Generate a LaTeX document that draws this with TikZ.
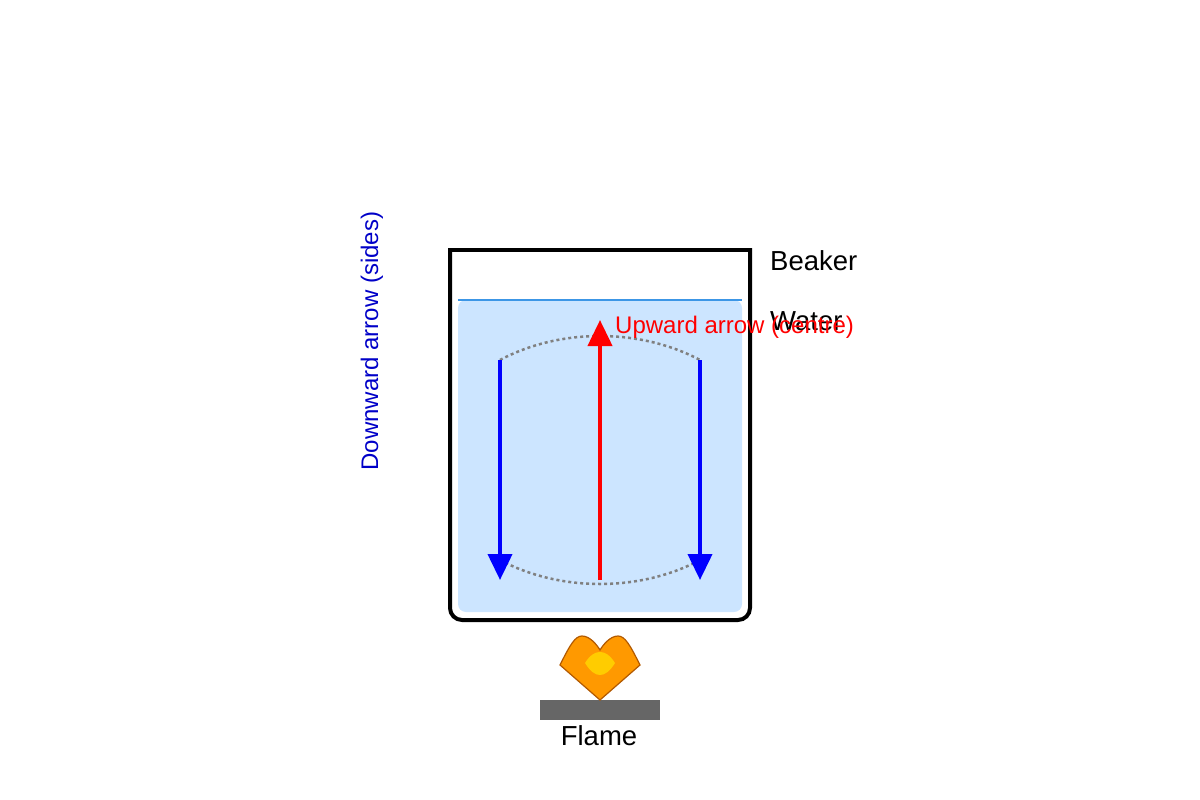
\documentclass[tikz,border=0pt]{standalone}
\usepackage{fontspec}
\setmainfont{Liberation Sans}
\usetikzlibrary{arrows.meta}
\begin{document}
\begin{tikzpicture}[x=1pt,y=-1pt,
  lbl/.style={font=\fontsize{27.5}{30}\selectfont,inner sep=0pt},
  slbl/.style={font=\fontsize{24}{28}\selectfont,inner sep=0pt},
  flow/.style={line width=4pt,-{Triangle[length=26pt,width=24pt]}},
  path/.style={gray,dashed,dash pattern=on 3pt off 3pt,line width=2.5pt}]
\useasboundingbox (0,0) rectangle (1200,800);
\fill[color={rgb,255:red,204;green,229;blue,255},rounded corners=8pt] (458,300) rectangle (742,612);
\draw[color={rgb,255:red,60;green,150;blue,230},line width=1.5pt] (458,300) -- (742,300);
\draw[line width=4pt,rounded corners=12pt] (450,248) -- (450,620) -- (750,620) -- (750,248);
\draw[line width=4pt] (450,250) -- (750,250);
\coordinate (tl) at (500,360); \coordinate (tr) at (700,360);
\coordinate (bl) at (500,560); \coordinate (br) at (700,560);
\draw[path] (tl) .. controls (560,328) and (640,328) .. (tr);
\draw[path] (bl) .. controls (560,592) and (640,592) .. (br);
\coordinate (ld) at (500,580); \coordinate (rd) at (700,580);
\coordinate (cb) at (600,580); \coordinate (ct) at (600,320);
\draw[flow,blue] (tl) -- (ld);
\draw[flow,blue] (tr) -- (rd);
\draw[flow,red] (cb) -- (ct);
\node[lbl,anchor=west] (beaker) at (770,261) {Beaker};
\node[lbl,anchor=west] (water) at (770,321) {Water};
\node[slbl,anchor=west,red] (up) at (615,327) {Upward arrow (centre)};
\node[slbl,rotate=90,color={rgb,255:red,0;green,0;blue,200}] (down) at (372,341) {Downward arrow (sides)};
\fill[color={rgb,255:red,102;green,102;blue,102}] (540,700) rectangle (660,720);
\draw[fill={rgb,255:red,255;green,153;blue,0},draw=orange!70!black,line width=1.2pt] (600,700) -- (560,665) .. controls (570,645) and (575,636) .. (582,636) .. controls (590,636) and (597,645) .. (600,650) .. controls (603,645) and (610,636) .. (618,636) .. controls (625,636) and (630,645) .. (640,665) -- cycle;
\fill[color={rgb,255:red,255;green,204;blue,0}] (585,663) .. controls (590,655) and (595,652) .. (600,652) .. controls (605,652) and (610,655) .. (615,663) .. controls (610,671) and (605,675) .. (600,675) .. controls (595,675) and (590,671) .. (585,663) -- cycle;
\node[lbl] (flame) at (599,736) {Flame};
\end{tikzpicture}
\end{document}
